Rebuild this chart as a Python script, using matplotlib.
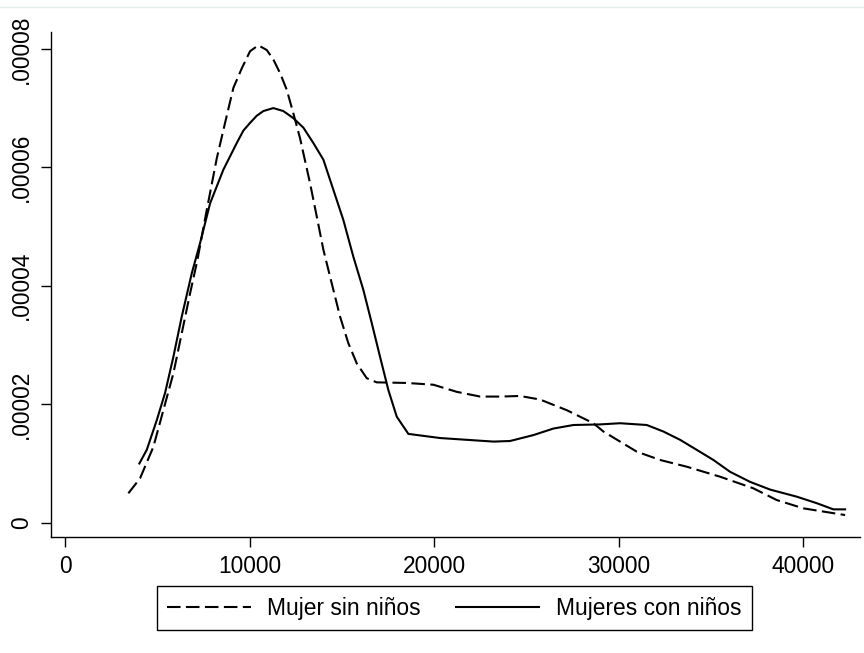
import matplotlib
matplotlib.use("Agg")
import matplotlib.pyplot as plt
from matplotlib.lines import Line2D

plt.rcParams['font.family'] = ['Liberation Sans', 'DejaVu Sans']

# Mujer sin niños (dashed)
x_sin = [3415, 4049, 4770, 5312, 5854, 6309, 6759, 7154, 7664, 8206, 8656, 9106,
         9561, 10011, 10461, 10916, 11274, 11637, 12000, 12358, 12721, 13263,
         13626, 13984, 14439, 14889, 15339, 15794, 16336, 16878, 18504, 19946,
         21214, 22477, 23561, 24645, 25729, 27176, 28618, 29160, 30970, 32233,
         33680, 35485, 37290, 38558, 40000, 42260]
y_sin = [4.97e-6, 7.5e-6, 12.8e-6, 19.0e-6, 25.2e-6, 32.0e-6, 38.7e-6, 44.3e-6,
         52.8e-6, 61.5e-6, 67.5e-6, 73.4e-6, 76.7e-6, 79.6e-6, 80.6e-6, 79.8e-6,
         78.2e-6, 75.9e-6, 73.1e-6, 69.1e-6, 64.9e-6, 57.3e-6, 51.7e-6, 46.1e-6,
         40.4e-6, 34.8e-6, 30.3e-6, 26.9e-6, 24.4e-6, 23.7e-6, 23.6e-6, 23.3e-6,
         22.1e-6, 21.3e-6, 21.3e-6, 21.4e-6, 20.8e-6, 19.0e-6, 16.8e-6, 15.4e-6,
         12.0e-6, 10.6e-6, 9.46e-6, 7.77e-6, 5.81e-6, 3.83e-6, 2.43e-6, 1.30e-6]

# Mujeres con niños (solid)
x_con = [4011, 4412, 4954, 5404, 5854, 6309, 6851, 7301, 7843, 8564, 9290, 9648,
         10011, 10372, 10732, 11274, 11816, 12358, 12900, 13442, 13984, 14526,
         15068, 15610, 16152, 16607, 17057, 17507, 17962, 18591, 20309, 21756,
         23198, 24103, 25371, 26450, 27534, 28981, 30065, 31512, 32413, 33317,
         34222, 35122, 36027, 37111, 38195, 39642, 40726, 41626, 42260]
y_con = [10.0e-6, 12.3e-6, 17.3e-6, 21.9e-6, 28.0e-6, 34.8e-6, 42.1e-6, 47.2e-6,
         53.9e-6, 59.6e-6, 64.1e-6, 66.2e-6, 67.5e-6, 68.7e-6, 69.5e-6, 70.0e-6,
         69.5e-6, 68.3e-6, 66.7e-6, 64.1e-6, 61.3e-6, 56.2e-6, 51.1e-6, 44.9e-6,
         39.3e-6, 33.7e-6, 28.0e-6, 22.4e-6, 17.9e-6, 15.0e-6, 14.3e-6, 14.0e-6,
         13.7e-6, 13.8e-6, 14.8e-6, 15.9e-6, 16.5e-6, 16.6e-6, 16.8e-6, 16.5e-6,
         15.4e-6, 14.0e-6, 12.3e-6, 10.6e-6, 8.6e-6, 6.9e-6, 5.6e-6, 4.4e-6,
         3.3e-6, 2.26e-6, 2.26e-6]

xticks = [0, 10000, 20000, 30000, 40000]
xtick_labels = ['0', '10000', '20000', '30000', '40000']
yticks = [0, 0.00002, 0.00004, 0.00006, 0.00008]
ytick_labels = ['0', '.00002', '.00004', '.00006', '.00008']
labels = ['Mujer sin niños', 'Mujeres con niños']

fig = plt.figure(figsize=(8.64, 6.53), dpi=100)
ax = fig.add_axes([0.0594, 0.1777, 0.936, 0.7738])

l1, = ax.plot(x_sin, y_sin, color='black', lw=1.5, linestyle=(0, (6.5, 2.6)),
              label=labels[0], solid_joinstyle='round', dash_joinstyle='round')
l2, = ax.plot(x_con, y_con, color='black', lw=1.5, linestyle='-', label=labels[1],
              solid_joinstyle='round')

ax.set_xlim(-760, 43070)
ax.set_ylim(-2.4e-6, 8.29e-5)
ax.set_xticks(xticks)
ax.set_xticklabels(xtick_labels)
ax.set_yticks(yticks)
ax.set_yticklabels(ytick_labels, rotation=90, va='center')

for s in ['top', 'right']:
    ax.spines[s].set_visible(False)
for s in ['left', 'bottom']:
    ax.spines[s].set_linewidth(1.0)

ax.tick_params(axis='both', direction='out', length=7, width=1.0, labelsize=16.4,
               colors='black', pad=6)

fig.legend(handles=[l1, l2], labels=labels, loc='center',
           bbox_to_anchor=(0.526, 0.0689), ncol=2, fontsize=16.4,
           frameon=True, fancybox=False, edgecolor='black', framealpha=1,
           handlelength=3.65, handletextpad=0.73, columnspacing=1.55,
           borderpad=0.48, borderaxespad=0)
leg = fig.legends[0]
leg.get_frame().set_linewidth(1.0)

fig.add_artist(Line2D([0, 1], [1 - 7 / 653, 1 - 7 / 653], transform=fig.transFigure,
                      color='#e4ecee', lw=1))

fig.savefig('out.png', dpi=100, facecolor='white')
